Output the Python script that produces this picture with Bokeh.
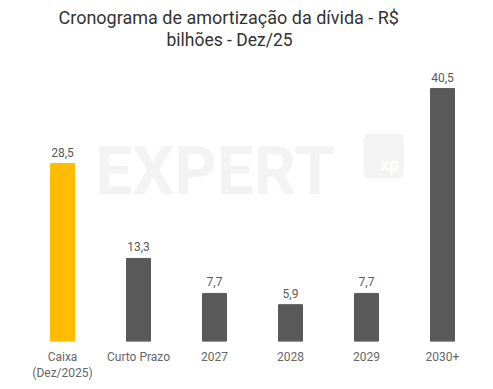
from bokeh.plotting import figure
from bokeh.models import ColumnDataSource, LabelSet, Label, Title, BoxAnnotation
from bokeh.core.properties import value
from bokeh.embed import file_html
from bokeh.resources import INLINE

categories = ["Caixa\n(Dez/2025)", "Curto Prazo", "2027", "2028", "2029", "2030+"]
values = [28.5, 13.3, 7.7, 5.9, 7.7, 40.5]
labels = ["28,5", "13,3", "7,7", "5,9", "7,7", "40,5"]
colors = ["#FFBC00", "#595959", "#595959", "#595959", "#595959", "#595959"]
title_lines = ["Cronograma de amortização da dívida - R$", "bilhões - Dez/25"]

src = ColumnDataSource(dict(cat=categories, val=values, lab=labels, col=colors))

p = figure(x_range=categories, y_range=(0, 45), frame_width=456, frame_height=281,
           output_backend="svg", toolbar_location=None, title=None,
           min_border_left=24, min_border_right=0, min_border_top=60, min_border_bottom=40)

# spacer between title and plot area
p.add_layout(Title(text=" ", text_font="Roboto", text_font_size="8px", standoff=0), "above")
p.add_layout(Title(text=title_lines[1], align="left", text_font="Roboto", text_font_size="17.5px",
                   text_font_style="normal", text_color="#333333", standoff=0, offset=142), "above")
p.add_layout(Title(text=title_lines[0], align="left", text_font="Roboto", text_font_size="18px",
                   text_font_style="normal", text_color="#333333", standoff=0, offset=34), "above")

# watermark
p.add_layout(Label(x=0.93, y=27.2, text="EXPERT", text_font="Roboto", text_font_size="66px",
                   text_font_style="bold", text_color="#f3f3f3", text_baseline="alphabetic",
                   level="underlay"))
p.add_layout(BoxAnnotation(left=4.46, right=4.99, bottom=26.1, top=33.3, fill_color="#f3f3f3",
                           fill_alpha=1, line_color=None, border_radius=6, level="underlay"))
p.add_layout(Label(x=4.93, y=26.6, text="xp", text_align="right", text_font="Roboto",
                   text_font_size="18px", text_font_style="bold", text_color="#ffffff",
                   level="underlay"))

p.vbar(x="cat", top="val", width=0.316, color="col", source=src)

p.add_layout(LabelSet(x="cat", y="val", text="lab", source=src, y_offset=7,
                      text_align="center", text_baseline="bottom",
                      text_font=value("Roboto"), text_font_size="12px", text_color="#595959"))

p.yaxis.visible = False
p.xaxis.axis_line_color = None
p.xaxis.major_tick_line_color = None
p.xaxis.minor_tick_line_color = None
p.xaxis.major_label_text_font = "Roboto"
p.xaxis.major_label_text_font_size = "12px"
p.xaxis.major_label_text_color = "#666666"
p.xaxis.major_label_standoff = 2
p.xgrid.visible = False
p.ygrid.visible = False
p.outline_line_color = None
p.x_range.range_padding = 0

open("out.html", "w").write(file_html(p, INLINE))
